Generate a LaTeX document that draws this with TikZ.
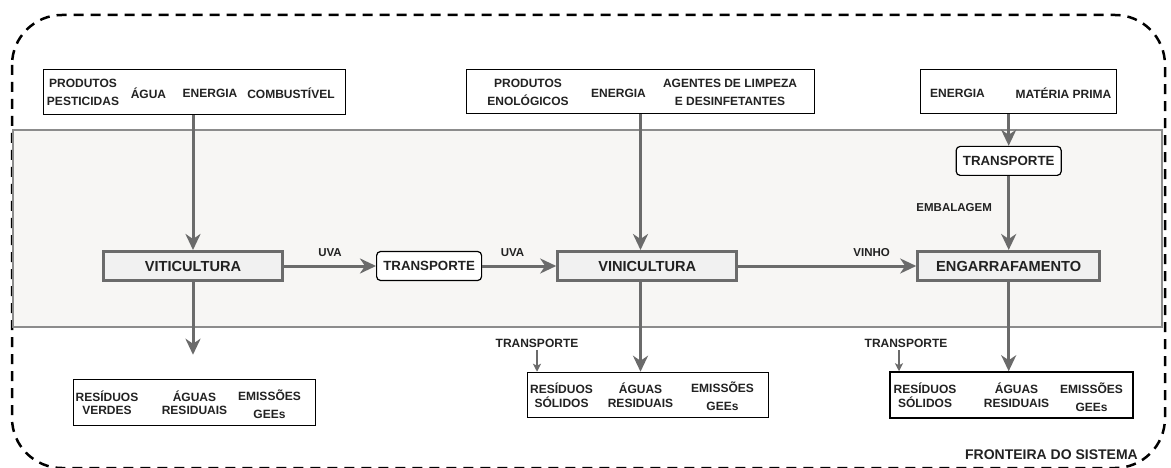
\documentclass[tikz,border=0pt]{standalone}
\usepackage{fontspec}
\setmainfont{Liberation Sans}
\usepackage{tikz}
\usetikzlibrary{positioning,calc,arrows.meta}
\definecolor{linegray}{HTML}{6B6B6B}
\definecolor{procfill}{HTML}{F1F1F1}
\definecolor{bandfill}{HTML}{F7F6F4}
\definecolor{bandline}{HTML}{8C8C8C}
\definecolor{txt}{HTML}{222222}
\tikzset{process/.style={draw=linegray,line width=3pt,fill=procfill,minimum width=179pt,minimum height=29pt,inner sep=0pt,text=txt,font=\bfseries\fontsize{14.6}{16}\selectfont},
         transp/.style={draw=black,line width=1.2pt,fill=white,rounded corners=4pt,minimum width=105pt,minimum height=29pt,inner sep=0pt,text=txt,font=\bfseries\fontsize{13.3}{15}\selectfont},
         flowbox/.style={draw=black,line width=1.5pt,fill=white,minimum height=45pt,inner sep=0pt},
         item/.style={inner sep=0pt,align=center,text=txt,font=\bfseries\fontsize{12}{18}\selectfont},
         tight/.style={font=\bfseries\fontsize{12}{13.5}\selectfont},
         lbl/.style={text=txt,font=\bfseries\fontsize{11.5}{13}\selectfont},
         tlbl/.style={text=txt,inner sep=3pt,font=\bfseries\fontsize{12}{14}\selectfont},
         band/.style={draw=bandline,line width=1.5pt,fill=bandfill},
         boundary/.style={draw=black,line width=2.5pt,dash pattern=on 10pt off 7pt,rounded corners=50pt}
}
\tikzstyle{arrow} = [draw=linegray,line width=3pt,-{Stealth[length=16pt,width=15pt,inset=5pt]}]
\tikzstyle{thinarrow} = [draw=linegray,line width=1.5pt,-{Stealth[length=8pt,width=8pt,inset=2pt]}]

\begin{document}
\begin{tikzpicture}[x=1pt,y=-1pt]

\useasboundingbox (0,0) rectangle (1171,468);
\draw[boundary] (12,15) rectangle (1165,468);
\draw[band] (13,130) rectangle (1162,327);

\node[process] (viti) at (193,266) {VITICULTURA};
\node[transp,right=92pt of viti] (transuva) {TRANSPORTE};
\node[process,right=74pt of transuva] (vini) {VINICULTURA};
\node[process,right=178pt of vini,minimum width=182pt] (engar) {ENGARRAFAMENTO};
\node[transp,above=74pt of engar] (transemb) {TRANSPORTE};

\node[flowbox,minimum width=302pt] (inviti) at (194.5,92) {};
\node[item] (pest) at (83,92.5) {PRODUTOS\\PESTICIDAS};
\node[item] (agua) at (148.5,93) {ÁGUA};
\node[item] (ener1) at (210,93) {ENERGIA};
\node[item] (comb) at (291,93) {COMBUSTÍVEL};

\node[flowbox,minimum width=348pt,minimum height=44pt] (invini) at (640.5,91.5) {};
\node[item] (enol) at (528,92.5) {PRODUTOS\\ENOLÓGICOS};
\node[item] (ener2) at (618.5,93) {ENERGIA};
\node[item] (limp) at (730,92.5) {AGENTES DE LIMPEZA\\E DESINFETANTES};

\node[flowbox,minimum width=196pt,minimum height=44pt] (inengar) at (1018.5,91.5) {};
\node[item] (ener3) at (957.5,93) {ENERGIA};
\node[item] (mat) at (1063.5,93) {MATÉRIA PRIMA};

\node[flowbox,minimum width=242pt,minimum height=46pt] (outviti) at (194.5,402.5) {};
\node[item,tight] (verdes) at (107,402.5) {RESÍDUOS\\VERDES};
\node[item,tight] (aguas1) at (194.5,402.5) {ÁGUAS\\RESIDUAIS};
\node[item] (gee1) at (269.5,404) {EMISSÕES\\GEEs};

\node[flowbox,minimum width=241pt] (outvini) at (648,395) {};
\node[item,tight] (solid2) at (561.5,395) {RESÍDUOS\\SÓLIDOS};
\node[item,tight] (aguas2) at (640.5,395) {ÁGUAS\\RESIDUAIS};
\node[item] (gee2) at (722.5,396.5) {EMISSÕES\\GEEs};

\node[flowbox,minimum width=243pt,minimum height=46pt] (outengar) at (1011.5,395) {};
\node[item,tight] (solid3) at (925,395) {RESÍDUOS\\SÓLIDOS};
\node[item,tight] (aguas3) at (1016.5,395) {ÁGUAS\\RESIDUAIS};
\node[item] (gee3) at (1091.5,397) {EMISSÕES\\GEEs};

\node[tlbl] (trres2) at (537,343) {TRANSPORTE};
\node[tlbl] (trres3) at (906,343) {TRANSPORTE};
\node[text=txt,font=\bfseries\fontsize{14}{16}\selectfont] (fronteira) at (1051.5,455) {FRONTEIRA DO SISTEMA};

\draw[arrow] (inviti.south -| viti) -- (viti.north);
\draw[arrow,shorten >=24pt] (viti.south) -- (viti.south |- outviti.north);
\draw[arrow] (viti) -- node[lbl,midway,above=5pt] (uva1) {UVA} (transuva);
\draw[arrow] (transuva) -- node[lbl,pos=0.41,above=5pt] (uva2) {UVA} (vini);
\draw[arrow] (invini.south) -- (invini.south |- vini.north);
\draw[arrow] (vini.south -| invini.south) -- (invini.south |- outvini.north);
\draw[arrow] (vini) -- node[lbl,pos=0.75,above=5pt] (vinho) {VINHO} (engar);
\draw[arrow] (transemb |- inengar.south) -- (transemb.north);
\draw[arrow] (transemb) -- node[lbl,pos=0.42,left=12pt] (emb) {EMBALAGEM} (engar);
\draw[arrow] (engar.south) -- (engar.south |- outengar.north);
\draw[thinarrow] (trres2.south) -- (trres2.south |- outvini.north);
\draw[thinarrow] ([xshift=-7pt]trres3.south) -- ([xshift=-7pt]trres3.south |- outengar.north);

\end{tikzpicture}
\end{document}
